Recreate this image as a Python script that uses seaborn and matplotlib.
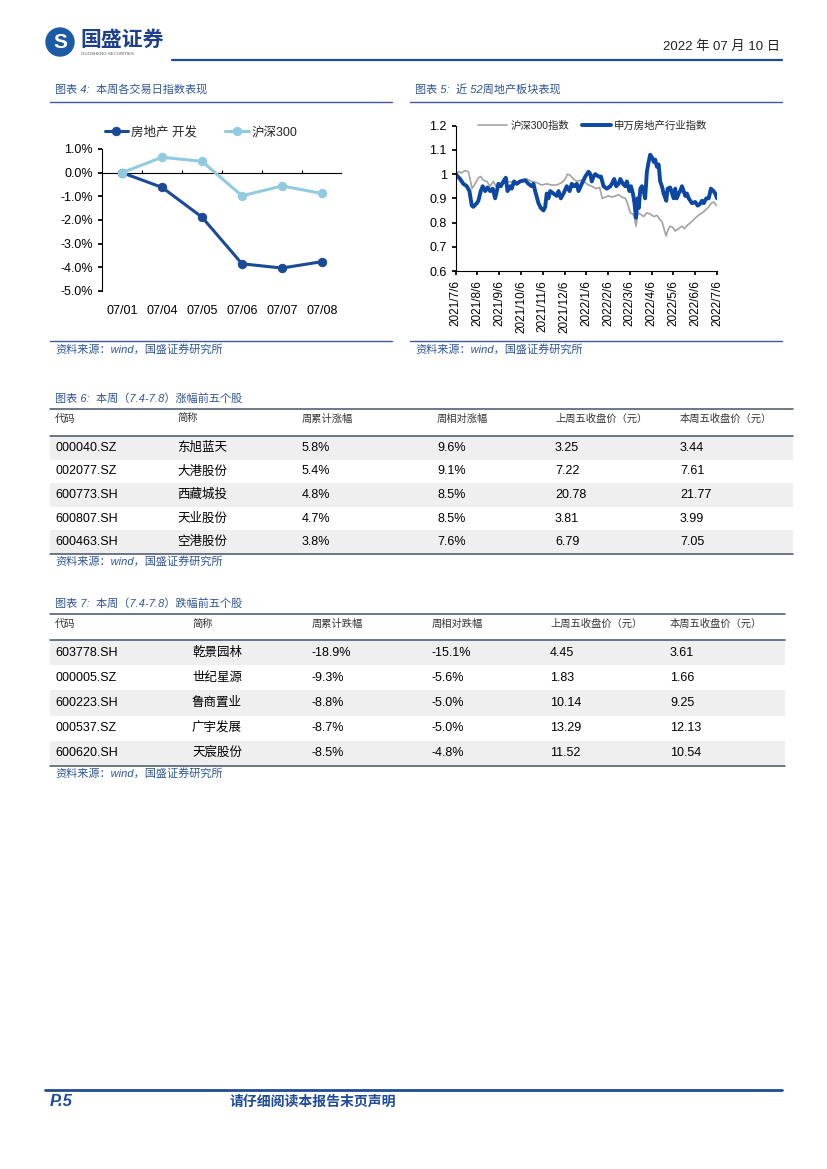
import numpy as np
import pandas as pd
import matplotlib
matplotlib.use("Agg")
import matplotlib.pyplot as plt
from matplotlib.patches import Circle, Rectangle
import seaborn as sns

# chart 4: daily index performance this week
days = ['07/01', '07/04', '07/05', '07/06', '07/07', '07/08']
realestate = [0.0, -0.62, -1.88, -3.85, -4.03, -3.76]
hs300 = [0.0, 0.65, 0.48, -0.98, -0.56, -0.88]

# chart 5: last 52 weeks (x = months since 2021/7/6)
month_labels = ['2021/7/6', '2021/8/6', '2021/9/6', '2021/10/6', '2021/11/6', '2021/12/6',
                '2022/1/6', '2022/2/6', '2022/3/6', '2022/4/6', '2022/5/6', '2022/6/6', '2022/7/6']
hs_m = [0.00, 0.12, 0.28, 0.43, 0.58, 0.66, 0.75, 0.89, 1.04, 1.15, 1.27, 1.43, 1.58, 1.73,
        1.85, 2.01, 2.19, 2.42, 2.65, 2.88, 3.11, 3.26, 3.49, 3.72, 3.95, 4.18, 4.41, 4.64,
        4.87, 5.03, 5.13, 5.26, 5.41, 5.56, 5.75, 5.95, 6.10, 6.25, 6.45, 6.61, 6.73, 6.87,
        7.02, 7.17, 7.33, 7.48, 7.63, 7.79, 7.89, 8.02, 8.14, 8.21, 8.28, 8.37, 8.48, 8.63,
        8.78, 8.93, 9.10, 9.24, 9.36, 9.49, 9.58, 9.66, 9.75, 9.85, 9.97, 10.08, 10.24, 10.39,
        10.50, 10.65, 10.80, 10.96, 11.08, 11.23, 11.39, 11.51, 11.62, 11.74, 11.84, 11.94, 12.00]
hs_v = [1.00, 1.01, 1.005, 1.015, 1.01, 0.98, 0.94, 0.96, 0.985, 0.99, 0.975, 0.97, 0.95, 0.97,
        0.95, 0.96, 0.965, 0.97, 0.965, 0.97, 0.975, 0.98, 0.97, 0.965, 0.955, 0.96, 0.955, 0.955,
        0.965, 0.98, 1.00, 0.995, 0.98, 0.97, 0.975, 0.965, 0.955, 0.95, 0.94, 0.945, 0.90, 0.905,
        0.91, 0.905, 0.91, 0.915, 0.905, 0.90, 0.88, 0.84, 0.835, 0.82, 0.785, 0.84, 0.835, 0.825,
        0.84, 0.835, 0.825, 0.83, 0.815, 0.80, 0.77, 0.745, 0.77, 0.785, 0.78, 0.765, 0.775, 0.785,
        0.775, 0.79, 0.80, 0.815, 0.825, 0.835, 0.845, 0.855, 0.865, 0.88, 0.885, 0.875, 0.87]
sw_m = [0.00, 0.20, 0.35, 0.51, 0.63, 0.74, 0.81, 0.97, 1.04, 1.15, 1.24, 1.35, 1.46, 1.58,
        1.70, 1.81, 1.89, 1.96, 2.07, 2.19, 2.30, 2.38, 2.50, 2.57, 2.68, 2.80, 2.96, 3.19,
        3.34, 3.49, 3.57, 3.65, 3.80, 3.91, 4.03, 4.11, 4.18, 4.26, 4.34, 4.49, 4.64, 4.72,
        4.83, 4.95, 5.10, 5.23, 5.33, 5.44, 5.56, 5.64, 5.79, 5.95, 6.10, 6.18, 6.25, 6.33,
        6.41, 6.56, 6.67, 6.79, 6.94, 7.10, 7.17, 7.28, 7.37, 7.48, 7.56, 7.68, 7.79, 7.86,
        7.98, 8.05, 8.14, 8.21, 8.28, 8.35, 8.41, 8.48, 8.55, 8.63, 8.70, 8.78, 8.86, 8.93,
        9.01, 9.10, 9.16, 9.24, 9.32, 9.39, 9.47, 9.55, 9.67, 9.73, 9.85, 10.01, 10.08, 10.15,
        10.24, 10.31, 10.39, 10.47, 10.54, 10.62, 10.70, 10.85, 11.00, 11.11, 11.20, 11.31,
        11.39, 11.51, 11.62, 11.72, 11.84, 11.92, 12.00]
sw_v = [1.00, 0.98, 0.96, 0.95, 0.93, 0.87, 0.865, 0.88, 0.89, 0.93, 0.95, 0.93, 0.945, 0.93,
        0.94, 0.90, 0.93, 0.96, 0.95, 0.97, 0.985, 0.93, 0.95, 0.94, 0.97, 0.96, 0.97, 0.975,
        0.96, 0.95, 0.96, 0.93, 0.88, 0.86, 0.85, 0.865, 0.92, 0.90, 0.93, 0.92, 0.91, 0.93,
        0.90, 0.92, 0.95, 0.93, 0.96, 0.95, 0.96, 0.93, 0.96, 0.99, 1.01, 1.00, 0.97, 0.99,
        1.00, 0.99, 0.99, 0.95, 0.94, 0.95, 0.96, 0.98, 0.95, 0.96, 0.98, 0.96, 0.95, 0.97,
        0.93, 0.95, 0.92, 0.88, 0.82, 0.90, 0.86, 0.94, 0.95, 0.93, 0.90, 1.01, 1.05, 1.08,
        1.07, 1.05, 1.06, 1.03, 1.04, 0.97, 0.95, 0.92, 0.89, 0.94, 0.945, 0.90, 0.94, 0.90,
        0.92, 0.93, 0.95, 0.93, 0.91, 0.92, 0.90, 0.88, 0.885, 0.87, 0.875, 0.89,
        0.88, 0.90, 0.90, 0.94, 0.93, 0.92, 0.90]

# table 6: top five gainers
t6_head = ['代码', '简称', '周累计涨幅', '周相对涨幅', '上周五收盘价（元）', '本周五收盘价（元）']
t6_code = ['000040.SZ', '002077.SZ', '600773.SH', '600807.SH', '600463.SH']
t6_name = ['东旭蓝天', '大港股份', '西藏城投', '天业股份', '空港股份']
t6_cum = [5.8, 5.4, 4.8, 4.7, 3.8]
t6_rel = [9.6, 9.1, 8.5, 8.5, 7.6]
t6_prev = [3.25, 7.22, 20.78, 3.81, 6.79]
t6_last = [3.44, 7.61, 21.77, 3.99, 7.05]

# table 7: top five losers
t7_head = ['代码', '简称', '周累计跌幅', '周相对跌幅', '上周五收盘价（元）', '本周五收盘价（元）']
t7_code = ['603778.SH', '000005.SZ', '600223.SH', '000537.SZ', '600620.SH']
t7_name = ['乾景园林', '世纪星源', '鲁商置业', '广宇发展', '天宸股份']
t7_cum = [-18.9, -9.3, -8.8, -8.7, -8.5]
t7_rel = [-15.1, -5.6, -5.0, -5.0, -4.8]
t7_prev = [4.45, 1.83, 10.14, 13.29, 11.52]
t7_last = [3.61, 1.66, 9.25, 12.13, 10.54]

sns.set_theme(style="white")
plt.rcParams['font.family'] = ['Liberation Sans', 'Noto Sans CJK SC', 'DejaVu Sans']
plt.rcParams['axes.unicode_minus'] = False

W, H = 827, 1169
BLUE = '#1f4b94'
TBLUE = '#2f5597'

fig = plt.figure(figsize=(8.27, 11.69), dpi=100)
page = fig.add_axes([0, 0, 1, 1])
page.set_xlim(0, W)
page.set_ylim(H, 0)
page.axis('off')

# header
page.add_patch(Circle((60, 42), 14, color='#1d5aa6'))
page.text(60, 42.5, 'S', color='white', fontsize=15, fontweight='bold', ha='center', va='center')
page.text(80, 40, '国盛证券', color='#1e3f8a', fontsize=15, fontweight='bold', va='center')
page.text(81, 54, 'GUOSHENG SECURITIES', color='#555555', fontsize=3.2, va='center')
page.plot([172, 782], [60, 60], color=BLUE, lw=1.6)
page.text(780, 47, '2022 年 07 月 10 日', fontsize=9.5, ha='right', va='center', color='#222222')

# chart frames (titles, rules, sources)
for x0, x1, title in [(50, 392, '图表 4:  本周各交易日指数表现'), (410, 782, '图表 5:  近 52周地产板块表现')]:
    page.text(x0 + 5, 89, title, fontsize=8, style='italic', color=TBLUE, va='center')
    page.plot([x0, x1], [102, 102], color='#3a5a9a', lw=1.0)
    page.plot([x0, x1], [341, 341], color='#3a5a9a', lw=1.0)
    page.text(x0 + 5, 349, '资料来源：wind，国盛证券研究所', fontsize=8, style='italic',
              color=TBLUE, va='center')

# chart 4
ax4 = fig.add_axes([102 / W, 1 - 291 / H, 240 / W, 142 / H])
xi = np.arange(len(days))
sns.lineplot(x=xi, y=realestate, ax=ax4, color='#1b4a96', lw=2.2, marker='o', markersize=6,
             markeredgecolor='#1b4a96', label='房地产 开发')
sns.lineplot(x=xi, y=hs300, ax=ax4, color='#92cbe0', lw=2.2, marker='o', markersize=6,
             markeredgecolor='#92cbe0', label='沪深300')
ax4.set_xlim(-0.5, len(days) - 0.5)
ax4.set_ylim(-5, 1)
ax4.set_yticks(np.arange(-5, 1.01, 1))
ax4.set_yticklabels([f'{v:.1f}%' for v in np.arange(-5, 1.01, 1)])
ax4.set_xticks(xi)
ax4.set_xticklabels(days)
ax4.tick_params(axis='x', length=0, labelsize=9, pad=10)
ax4.tick_params(axis='y', length=3, direction='out', left=True, labelsize=9, color='black')
for s in ['top', 'right', 'bottom']:
    ax4.spines[s].set_visible(False)
ax4.spines['left'].set_color('black')
ax4.spines['left'].set_linewidth(0.8)
ax4.axhline(0, color='black', lw=0.8, zorder=1)
ax4.vlines(np.arange(0.5, len(days), 1), 0, 0.13, color='black', lw=0.8)
ax4.set_xlabel('')
ax4.legend(loc='center left', bbox_to_anchor=(-0.01, 1.12), ncol=2, frameon=False, fontsize=9,
           handlelength=1.9, columnspacing=2.2, handletextpad=0.25, borderaxespad=0)
for t in ax4.get_xticklabels() + ax4.get_yticklabels():
    t.set_color('black')

# chart 5
ax5 = fig.add_axes([455.7 / W, 1 - 271 / H, 261.3 / W, 145.3 / H])
sns.lineplot(x=hs_m, y=hs_v, ax=ax5, color='#a3a3a3', lw=1.2, label='沪深300指数')
sns.lineplot(x=sw_m, y=sw_v, ax=ax5, color='#0c47a1', lw=2.8, label='申万房地产行业指数')
ax5.set_xlim(0, 12)
ax5.set_ylim(0.6, 1.2)
yt = np.arange(0.6, 1.201, 0.1)
ax5.set_yticks(yt)
ax5.set_yticklabels([f'{v:g}' for v in np.round(yt, 1)])
ax5.set_xticks(np.arange(len(month_labels)))
ax5.set_xticklabels(month_labels, rotation=90)
ax5.tick_params(axis='both', length=3, direction='out', bottom=True, left=True, labelsize=8.5,
                color='black', labelcolor='black')
ax5.tick_params(axis='y', labelsize=9)
for s in ['top', 'right']:
    ax5.spines[s].set_visible(False)
for s in ['left', 'bottom']:
    ax5.spines[s].set_color('black')
    ax5.spines[s].set_linewidth(0.8)
ax5.set_xlabel('')
ax5.legend(loc='center left', bbox_to_anchor=(0.07, 1.0), ncol=2, frameon=False, fontsize=7.5,
           handlelength=2.8, columnspacing=1.2, handletextpad=0.3, borderaxespad=0)


# tables
def draw_table(title, y_title, y_top, y_hline, y_bot, x_right, cols, head, rows, src_y):
    page.text(55, y_title, title, fontsize=8, style='italic', color=TBLUE, va='center')
    rh = (y_bot - y_hline) / len(rows)
    for i in range(len(rows)):
        if i % 2 == 0:
            page.add_patch(Rectangle((50, y_hline + i * rh), x_right - 50, rh,
                                     color='#efefef', lw=0))
    page.plot([50, x_right], [y_top, y_top], color='#44546a', lw=1.1)
    page.plot([50, x_right], [y_hline, y_hline], color='#44546a', lw=1.1)
    page.plot([50, x_right], [y_bot, y_bot], color='#44546a', lw=1.1)
    for x, h in zip(cols, head):
        page.text(x, y_top + 12.5, h, fontsize=7.4, color='#333333', va='baseline')
    for i, row in enumerate(rows):
        yb = y_hline + (i + 0.5) * rh + 3
        for x, v in zip(cols, row):
            page.text(x, yb, v, fontsize=9, color='black', va='baseline')
    page.text(55, src_y, '资料来源：wind，国盛证券研究所', fontsize=8, style='italic',
              color=TBLUE, va='center')


rows6 = [[c, n, f'{a:.1f}%', f'{r:.1f}%', f'{p:.2f}', f'{l:.2f}']
         for c, n, a, r, p, l in zip(t6_code, t6_name, t6_cum, t6_rel, t6_prev, t6_last)]
rows7 = [[c, n, f'{a:.1f}%', f'{r:.1f}%', f'{p:.2f}', f'{l:.2f}']
         for c, n, a, r, p, l in zip(t7_code, t7_name, t7_cum, t7_rel, t7_prev, t7_last)]

draw_table('图表 6:  本周（7.4-7.8）涨幅前五个股', 399, 409, 436, 554, 793,
           [55, 177, 302, 437, 555, 680], t6_head, rows6, 561)
draw_table('图表 7:  本周（7.4-7.8）跌幅前五个股', 604, 614, 640, 766, 785,
           [55, 192, 312, 432, 550, 670], t7_head, rows7, 773)

# footer
page.plot([45, 782], [1090, 1090], color=BLUE, lw=2.0)
page.text(50, 1102, 'P.5', fontsize=12, fontweight='bold', style='italic', color='#1e4a9a', va='center')
page.text(230, 1102, '请仔细阅读本报告末页声明', fontsize=10, fontweight='bold', style='italic',
          color='#1e4a9a', va='center')

fig.savefig('out.png', dpi=100, facecolor='white')
